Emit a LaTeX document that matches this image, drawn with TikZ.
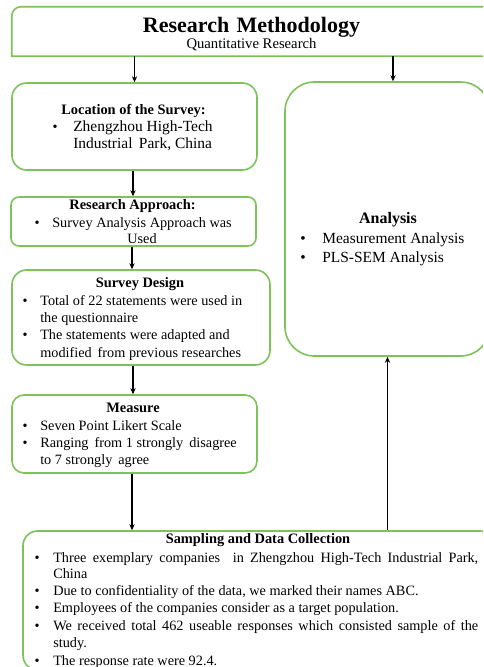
\documentclass[tikz,border=0pt]{standalone}
\usepackage{fontspec}
\setmainfont{Liberation Serif}
\usetikzlibrary{arrows.meta,fit}
\definecolor{gbox}{RGB}{125,195,90}
\tikzset{
  gline/.style={draw=gbox, line width=1.2pt},
  boxn/.style={gline, inner sep=0pt},
  arr/.style={draw=black, line width=1pt, -{Stealth[length=4.5pt,width=4pt]}},
  txt/.style={anchor=base west, inner sep=0pt, font=\fontsize{10.7}{13}\selectfont},
  txtc/.style={anchor=base, inner sep=0pt, font=\fontsize{10.7}{13}\selectfont},
  hd/.style={anchor=base, inner sep=0pt, font=\fontsize{10.8}{13}\selectfont\bfseries},
  bul/.style={anchor=base, inner sep=0pt, font=\fontsize{10.7}{13}\selectfont},
  big/.style={font=\fontsize{11.6}{14}\selectfont},
  bigb/.style={font=\fontsize{12}{14}\selectfont\bfseries},
}
\begin{document}
\begin{tikzpicture}[x=0.75pt,y=-0.75pt]
\clip (0,0) rectangle (483,667);
\fill[white] (0,0) rectangle (483,667);

% ---- boxes ----
\node[inner sep=0pt, fit={(12,7) (500,56)}] (title) {};
\draw[gline] (title.south east) -- (title.south west) [rounded corners=7pt] -- (title.north west) -- (title.north east);

\node[boxn, rounded corners=11pt, fit={(12,83) (257,170)}] (loc) {};
\node[boxn, rounded corners=6pt, fit={(11,197) (256,246)}] (ra) {};
\node[boxn, rounded corners=11pt, fit={(12,270) (270,365)}] (sd) {};
\node[boxn, rounded corners=9pt, fit={(12,395) (257,473)}] (meas) {};
\node[boxn, rounded corners=22pt, fit={(285,82) (490,356)}] (an) {};
\node[boxn, rounded corners=11pt, fit={(23,531) (495,670)}] (samp) {};

% ---- title texts ----
\node[anchor=base, inner sep=0pt, font=\fontsize{16.5}{18}\selectfont\bfseries] (t1) at (251.5,33) {Research\,\,Methodology};
\node[anchor=base, inner sep=0pt, font=\fontsize{11}{13}\selectfont] (t2) at (251.5,49) {Quantitative Research};

% ---- location ----
\node[hd] (l0) at (133.5,114) {Location of the Survey:};
\node[bul] (lb1) at (55,131) {\textbullet};
\node[txt, big] (l1) at (73,131) {Zhengzhou High-Tech};
\node[txt, big] (l2) at (73,148) {Industrial\, Park, China};

% ---- research approach ----
\node[hd] (r0) at (132.5,209) {Research Approach:};
\node[bul] (rb1) at (37,227) {\textbullet};
\node[txt] (r1) at (52,227) {Survey Analysis Approach was};
\node[txtc] (r2) at (142,243) {Used};

% ---- survey design ----
\node[hd] (s0) at (140,287) {Survey Design};
\node[bul] (sb1) at (25,305) {\textbullet};
\node[txt] (s1) at (40,305) {Total of 22 statements were used in};
\node[txt] (s2) at (40,322) {the questionnaire};
\node[bul] (sb2) at (25,339) {\textbullet};
\node[txt] (s3) at (40,339) {The statements were adapted and};
\node[txt] (s4) at (40,357) {modified\, from previous researches};

% ---- measure ----
\node[hd] (m0) at (133,412) {Measure};
\node[bul] (mb1) at (25,430) {\textbullet};
\node[txt] (m1) at (40,430) {Seven Point Likert Scale};
\node[bul] (mb2) at (25,447) {\textbullet};
\node[txt] (m2) at (40,447) {Ranging\, from 1 strongly\, disagree};
\node[txt] (m3) at (40,464) {to 7 strongly\, agree};

% ---- analysis ----
\node[anchor=base, inner sep=0pt, bigb] (a0) at (388,223) {Analysis};
\node[bul, big] (ab1) at (303,243) {\textbullet};
\node[txt, big] (a1) at (322,243) {Measurement Analysis};
\node[bul, big] (ab2) at (303,262) {\textbullet};
\node[txt, big] (a2) at (322,262) {PLS-SEM Analysis};

% ---- sampling ----
\node[hd] (p0) at (258,543) {Sampling and Data Collection};
\node[bul] (pb1) at (37,562) {\textbullet};
\node[txt] (p1) at (53,562) {\makebox[318.75pt][s]{Three exemplary companies\ \ in Zhengzhou High-Tech Industrial Park,}};
\node[txt] (p2) at (53,578) {China};
\node[bul] (pb2) at (37,595) {\textbullet};
\node[txt] (p3) at (53,595) {Due to confidentiality of the data, we marked their names ABC.};
\node[bul] (pb3) at (37,612) {\textbullet};
\node[txt] (p4) at (53,612) {Employees of the companies consider as a target population.};
\node[bul] (pb4) at (37,630) {\textbullet};
\node[txt] (p5) at (53,630) {\makebox[318.75pt][s]{We received total 462 useable responses which consisted sample of the}};
\node[txt] (p6) at (53,647) {study.};
\node[bul] (pb5) at (37,665) {\textbullet};
\node[txt] (p7) at (53,665) {The response rate were 92.4.};

% ---- connectors ----
\draw[arr] (loc.north |- title.south) -- (loc.north);
\draw[arr] (title.south -| 393,0) -- (an.north -| 393,0);
\draw[arr] (loc.south -| 133,0) -- (ra.north -| 133,0);
\draw[arr] (ra.south -| 132,0) -- (sd.north -| 132,0);
\draw[arr] (sd.south -| 133,0) -- (meas.north -| 133,0);
\draw[arr] (meas.south -| 132,0) -- (samp.north -| 132,0);
\draw[arr] (samp.north -| an.south) -- (an.south);
\end{tikzpicture}
\end{document}
